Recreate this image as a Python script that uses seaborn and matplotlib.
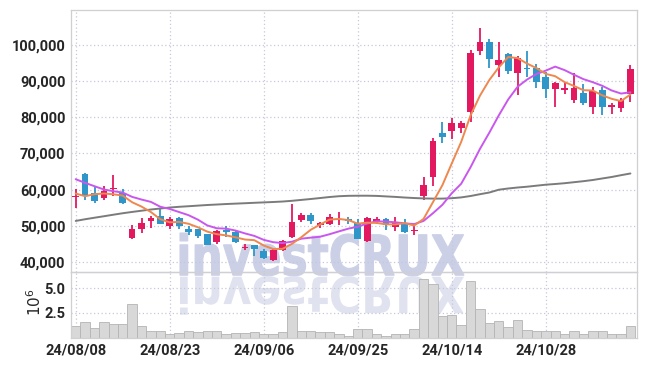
import numpy as np
import pandas as pd
import matplotlib
matplotlib.use('Agg')
import matplotlib.pyplot as plt
import seaborn as sns
from matplotlib.textpath import TextPath
from matplotlib.patches import PathPatch
from matplotlib.font_manager import FontProperties
from matplotlib.transforms import Affine2D
from matplotlib.ticker import FuncFormatter

# trading days (KRX holidays removed)
holidays = ['2024-08-15', '2024-09-16', '2024-09-17', '2024-09-18',
            '2024-10-01', '2024-10-03', '2024-10-09']
dates = pd.bdate_range('2024-08-08', '2024-11-08')
dates = dates[~dates.isin(pd.to_datetime(holidays))]

opens = [57900, 64270, 59090, 57700, 60300, 59190, 46730, 49120, 51330, 52630,
         49860, 52270, 49230, 49030, 47650, 45510, 48950, 48290, 43900, 44600,
         42940, 40640, 43220, 46900, 51720, 52910, 50140, 50420, 51530, 51900,
         50780, 45790, 51050, 51800, 49680, 50890, 48480, 58260, 63520, 75700,
         76260, 77090, 81530, 98420, 100830, 94540, 97420, 92160, 93700, 93540,
         91220, 87810, 87540, 84770, 86790, 82910, 87540, 82910, 82470, 86340]
closes = [58100, 58450, 56790, 59640, 60550, 56320, 49230, 50780, 52080, 50610,
          52000, 49860, 48200, 47180, 44600, 48480, 48200, 45510, 44150, 43690,
          41090, 43410, 45710, 51050, 52910, 51330, 50780, 52440, 52000, 51250,
          46450, 52170, 52000, 50140, 51050, 48290, 48750, 61220, 73410, 74420,
          78480, 78480, 97870, 100830, 96120, 95850, 92800, 96310, 93350, 89840,
          87810, 89560, 88170, 88000, 84020, 87340, 82910, 83380, 84770, 93270]
highs = [60110, 64460, 60750, 61030, 63990, 60030, 50140, 52270, 52630, 54770,
         52440, 52440, 49860, 49230, 47840, 48950, 49860, 48950, 44880, 44600,
         43690, 43690, 45990, 56150, 53550, 53550, 51050, 53380, 53830, 52440,
         52000, 52440, 52440, 52270, 52440, 52000, 50140, 63350, 74330, 78750,
         79860, 78950, 98620, 104620, 101580, 100900, 97700, 96950, 98420, 94650,
         92600, 89840, 89840, 92330, 89200, 88450, 88280, 83850, 85240, 94460]
lows = [54930, 57070, 56320, 57070, 58170, 56150, 46460, 48010, 49500, 50420,
        49230, 49230, 47370, 46730, 44600, 45070, 46900, 45240, 43220, 41550,
        40910, 40270, 43030, 46700, 51050, 50610, 49500, 50140, 50140, 50600,
        46260, 45510, 50600, 48950, 48570, 48110, 47370, 57070, 60940, 72770,
        73960, 75540, 78750, 97230, 93550, 91220, 91970, 86150, 91220, 88000,
        85240, 82910, 86340, 84020, 83380, 80890, 80610, 80890, 81530, 84300]
# volume in millions of shares
volumes = [1.24, 1.64, 1.04, 1.64, 1.37, 1.44, 3.44, 1.24, 0.74, 0.74,
           0.37, 0.47, 0.67, 0.57, 0.74, 0.74, 0.37, 0.47, 0.47, 0.57,
           0.37, 0.37, 0.57, 3.17, 0.67, 0.67, 0.57, 0.57, 0.37, 0.24,
           0.94, 0.94, 0.37, 0.24, 0.37, 0.37, 0.94, 5.94, 5.37, 2.17,
           2.27, 1.27, 5.67, 2.94, 1.54, 1.74, 1.07, 1.84, 0.84, 0.67,
           0.74, 0.74, 0.37, 0.74, 0.37, 0.74, 0.67, 0.37, 0.37, 1.24]
# moving-average values before a full window is visible
ma5_head = [58920, 58170, 58730, 58920]
ma10_head = [62880, 61860, 60940, 60030, 59560, 59190, 57990, 57250, 56600]
# long moving average (grey line)
ma_long = [51330, 51800, 52220, 52630, 53050, 53460, 53820, 54160, 54490, 54770,
           55040, 55240, 55400, 55570, 55740, 55870, 56010, 56120, 56230, 56350,
           56460, 56570, 56700, 56900, 57150, 57400, 57670, 57950, 58170, 58280,
           58310, 58310, 58260, 58120, 57980, 57810, 57670, 57560, 57510, 57510,
           57620, 57840, 58230, 58730, 59200, 59970, 60310, 60580, 60800, 61080,
           61360, 61550, 61770, 62050, 62330, 62660, 63080, 63490, 63990, 64460]

df = pd.DataFrame({'date': dates, 'open': opens, 'close': closes,
                   'high': highs, 'low': lows, 'volume': volumes,
                   'ma_long': ma_long})
df['idx'] = np.arange(len(df))
df['ma5'] = df['close'].rolling(5).mean()
df.loc[:3, 'ma5'] = ma5_head
df['ma10'] = df['close'].rolling(10).mean()
df.loc[:8, 'ma10'] = ma10_head

RED = '#e3195f'
BLUE = '#2f96c9'
GRID = '#c6c8dc'
SPINE = '#cfcfd4'
TXT = '#262626'

sns.set_theme(style='white')
plt.rcParams['font.family'] = ['Roboto', 'DejaVu Sans']

W, H = 645, 366
fig = plt.figure(figsize=(W / 100, H / 100), dpi=100, facecolor='white')
ax = fig.add_axes([71 / W, 94 / H, 566 / W, 262 / H])
axv = fig.add_axes([71 / W, 28 / H, 566 / W, 66 / H])
for a in (ax, axv):
    a.set_facecolor('none')

# watermark + reflection
fp = FontProperties(family='DejaVu Sans', weight='bold')
tp = TextPath((0, 0), 'investCRUX', size=1, prop=fp)
bb = tp.get_extents()
x0, x1, ytop, ybase = 180, 464, 233, 276
sx = (x1 - x0) / bb.width / W
sy = (ybase - ytop) / bb.height / H
tr_main = Affine2D().translate(-bb.x0, -bb.y0).scale(sx, sy).translate(x0 / W, 1 - ybase / H)
tr_refl = Affine2D().translate(-bb.x0, -bb.y0).scale(sx, -sy * 0.9).translate(x0 / W, 1 - ybase / H)
fig.add_artist(PathPatch(tp, transform=tr_main + fig.transFigure,
                         facecolor='#cbd0e6', edgecolor='#cbd0e6', linewidth=0.8, zorder=-1))
fig.add_artist(PathPatch(tp, transform=tr_refl + fig.transFigure,
                         facecolor='#e0e3ef', edgecolor='none', zorder=-1))

# candles
up = df['close'] >= df['open']
colors = np.where(up, RED, BLUE)
ax.vlines(df['idx'], df['low'], df['high'], colors=colors, linewidth=1.3, zorder=2)
body = (df['close'] - df['open']).abs().clip(lower=250)
ax.bar(df['idx'], body, bottom=np.minimum(df['open'], df['close']),
       width=0.72, color=colors, linewidth=0, zorder=3)

# moving averages
sns.lineplot(data=df, x='idx', y='ma_long', ax=ax, color='#7b7b7b', linewidth=1.4, zorder=4)
sns.lineplot(data=df, x='idx', y='ma10', ax=ax, color='#c957ee', linewidth=1.4, zorder=4)
sns.lineplot(data=df, x='idx', y='ma5', ax=ax, color='#ef874e', linewidth=1.4, zorder=5)

# volume
sns.barplot(data=df, x='idx', y='volume', ax=axv, native_scale=True, errorbar=None,
            color='#d8d8d8', edgecolor='#b4b4b4', linewidth=0.6, width=1.0,
            saturation=1, zorder=2)

ticks = df['idx'][::10]
for a in (ax, axv):
    a.set_xlim(-0.5, 59.7)
    a.set_xticks(ticks)
    a.set_xlabel('')
    a.grid(True, linestyle=(0, (1, 2)), color=GRID, linewidth=0.9)
    a.set_axisbelow(True)
    a.tick_params(length=0, labelsize=10.5, labelcolor=TXT, pad=4)
    for s in a.spines.values():
        s.set_color(SPINE)
        s.set_linewidth(0.9)

ax.set_ylim(37200, 109700)
ax.set_yticks(range(40000, 100001, 10000))
ax.yaxis.set_major_formatter(FuncFormatter(lambda v, p: f'{v:,.0f}'))
ax.set_ylabel('')
ax.tick_params(labelbottom=False)
for lab in ax.get_yticklabels():
    lab.set_fontweight('bold')

axv.set_ylim(0, 6.6)
axv.set_yticks([2.5, 5.0])
axv.set_yticklabels(['2.5', '5.0'], fontweight='bold')
axv.set_xticklabels(df['date'][::10].dt.strftime('%y/%m/%d'), fontweight='bold')
axv.set_ylabel('$10^6$', fontsize=11, color=TXT)
axv.yaxis.set_label_coords(-0.048, 0.55)

fig.savefig('out.png', dpi=100, facecolor='white')
